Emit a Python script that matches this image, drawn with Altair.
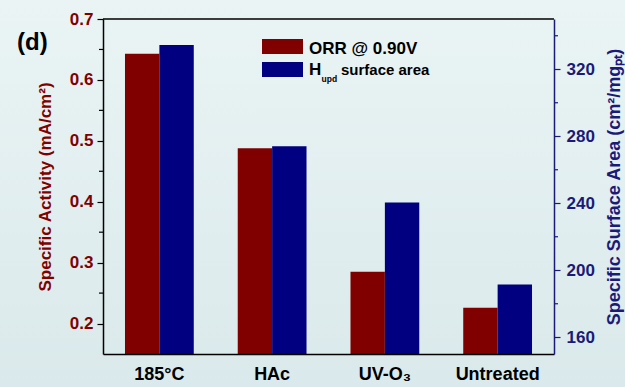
import altair as alt
import pandas as pd

categories = ["185°C", "HAc", "UV-O₃", "Untreated"]
activity = [0.643, 0.488, 0.285, 0.226]
surface = [334.5, 274.0, 240.5, 191.5]

left_major = [0.2, 0.3, 0.4, 0.5, 0.6, 0.7]
left_minor = [0.25, 0.35, 0.45, 0.55, 0.65]
right_major = [160, 200, 240, 280, 320]
right_minor = [180, 220, 260, 300, 340]

RED = "#800000"
BLUE = "#000080"
NAVY = "#1a1a78"
FONT = "Liberation Sans"

df_a = pd.DataFrame({"cat": categories, "val": activity, "series": "ORR"})
df_s = pd.DataFrame({"cat": categories, "val": surface, "series": "Hupd"})

W, H = 451, 335
PL, PT = 103, 19

ya_scale = alt.Scale(domain=[0.15, 0.7], nice=False, zero=False)
ys_scale = alt.Scale(domain=[150, 350], nice=False, zero=False)

x_enc = alt.X("cat:N", sort=categories,
              scale=alt.Scale(paddingInner=0.39, paddingOuter=0.195),
              axis=alt.Axis(title=None, labelAngle=0, labelColor="black",
                            labelFontSize=18, labelFontWeight="bold",
                            labelPadding=11, ticks=False, domainColor="black",
                            domainWidth=1.5, zindex=2))
xo_enc = alt.XOffset("series:N", scale=alt.Scale(domain=["ORR", "Hupd"], paddingInner=0))

bg = alt.Chart(alt.Data(values=[{}])).mark_rect(
    fill={"gradient": "linear", "x1": 0, "y1": 0, "x2": 0, "y2": 1,
          "stops": [{"offset": 0, "color": "#eaf4f4"}, {"offset": 1, "color": "#dae9eb"}]}
).encode(x=alt.value(-PL), x2=alt.value(625 - PL), y=alt.value(-PT), y2=alt.value(387 - PT))

bars_a = alt.Chart(df_a).mark_bar(color=RED, clip=True).encode(
    x=x_enc, xOffset=xo_enc,
    y=alt.Y("val:Q", scale=ya_scale,
            axis=alt.Axis(orient="left", values=left_major, format=".1f", tickSize=6,
                          labelColor=RED, labelFontSize=17, labelFontWeight="bold",
                          labelPadding=4, tickColor="black", tickWidth=1.2,
                          domainColor="black", domainWidth=1.5, zindex=2,
                          title="Specific Activity (mA/cm²)", titleColor=RED,
                          titleFontSize=17, titleFontWeight="bold", titlePadding=15, grid=False)),
)
minor_a = alt.Chart(pd.DataFrame({"v": left_minor})).mark_rule(color="black", strokeWidth=1.2).encode(
    y=alt.Y("v:Q", scale=ya_scale), x=alt.value(-4), x2=alt.value(0))

bars_s = alt.Chart(df_s).mark_bar(color=BLUE, clip=True).encode(
    x=x_enc, xOffset=xo_enc,
    y=alt.Y("val:Q", scale=ys_scale,
            axis=alt.Axis(orient="right", values=right_major, tickSize=6,
                          labelColor=NAVY, labelFontSize=17, labelFontWeight="bold",
                          labelPadding=6, tickColor=NAVY, tickWidth=1.2,
                          domainColor=NAVY, domainWidth=1.5, zindex=2,
                          title="Specific Surface Area (cm²/mgₚₜ)", titleColor=NAVY,
                          titleFontSize=18, titleFontWeight="bold", titlePadding=11,
                          titleAngle=270, titleBaseline="top", grid=False)),
)
minor_s = alt.Chart(pd.DataFrame({"v": right_minor})).mark_rule(color=NAVY, strokeWidth=1.2).encode(
    y=alt.Y("v:Q", scale=ys_scale), x=alt.value(W), x2=alt.value(W + 4))

left_layer = alt.layer(bars_a, minor_a)
right_layer = alt.layer(bars_s, minor_s)

one = alt.Data(values=[{}])
top_line = alt.Chart(one).mark_rule(color="black", strokeWidth=1.5).encode(
    x=alt.value(0), x2=alt.value(W), y=alt.value(0))
leg_red = alt.Chart(one).mark_rect(color=RED).encode(
    x=alt.value(262 - PL), x2=alt.value(303 - PL), y=alt.value(39 - PT), y2=alt.value(54 - PT))
leg_blue = alt.Chart(one).mark_rect(color=BLUE).encode(
    x=alt.value(262 - PL), x2=alt.value(303 - PL), y=alt.value(62 - PT), y2=alt.value(77 - PT))

def txt(s, x, y, size=17, color="black"):
    return alt.Chart(one).mark_text(text=s, align="left", baseline="alphabetic",
                                    font=FONT, fontSize=size, fontWeight="bold", color=color).encode(
        x=alt.value(x - PL), y=alt.value(y - PT))

t1 = txt("ORR @ 0.90V", 309, 54)
t2 = txt("H", 309, 75)
t3 = txt("upd", 321.5, 82, size=8.5)
t4 = txt("surface area", 341, 75, size=15)
td = txt("(d)", 17, 50, size=24)

chart = alt.layer(bg, left_layer, right_layer, top_line, leg_red, leg_blue, t1, t2, t3, t4, td).resolve_scale(
    y="independent"
).properties(
    width=W, height=H, autosize=alt.AutoSizeParams(type="none"),
    padding={"left": PL, "top": PT, "right": 625 - PL - W, "bottom": 387 - PT - H},
    background="#e3eff0"
).configure_view(stroke=None).configure(font=FONT)

chart.save("out.html", embed_options={"renderer": "svg", "actions": False})
